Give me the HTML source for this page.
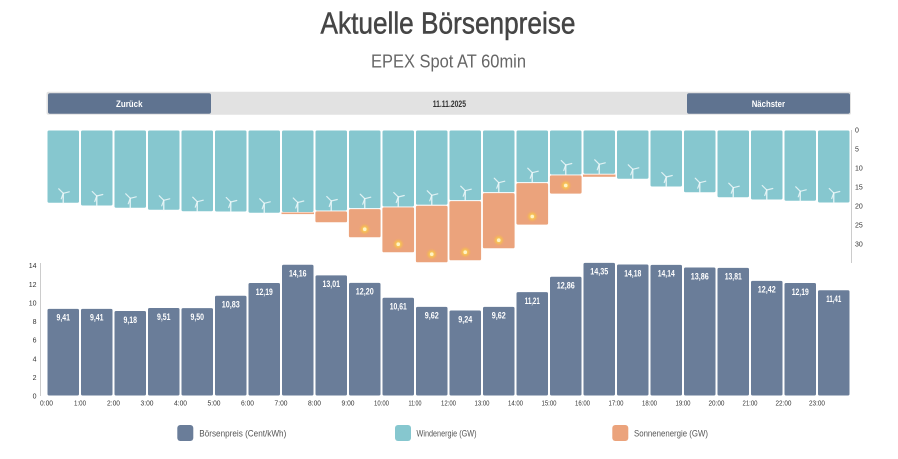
<!DOCTYPE html>
<html>
<head>
<meta charset="utf-8">
<style>
html,body{margin:0;padding:0;background:#fff;}
svg{display:block;}
text{font-family:"Liberation Sans",sans-serif;}
</style>
</head>
<body>
<svg width="898" height="459" viewBox="0 0 898 459" xmlns="http://www.w3.org/2000/svg">
<defs>
  <g id="t" stroke="#eef8f9" stroke-opacity="0.85" stroke-linecap="round" fill="none">
    <line x1="0" y1="0" x2="0" y2="9.5" stroke-width="1.4"/>
    <line x1="0" y1="0" x2="-4.5" y2="-4.5" stroke-width="1.2"/>
    <line x1="0" y1="0" x2="6" y2="-1.5" stroke-width="1.2"/>
    <line x1="0" y1="0" x2="-2" y2="5.5" stroke-width="1.2"/>
  </g>
  <radialGradient id="sg">
    <stop offset="0" stop-color="#ffe27a" stop-opacity="1"/>
    <stop offset="0.5" stop-color="#f8c24e" stop-opacity="0.8"/>
    <stop offset="1" stop-color="#f4a95a" stop-opacity="0"/>
  </radialGradient>
  <g id="s">
    <circle r="6" fill="url(#sg)"/>
    <circle r="1.8" fill="#fff3c4"/>
  </g>
</defs>

<!-- Title -->
<text x="320.5" y="33.3" font-size="31" fill="#454545" stroke="#454545" stroke-width="0.5" textLength="255" lengthAdjust="spacingAndGlyphs">Aktuelle Börsenpreise</text>
<text x="371" y="67.5" font-size="18" fill="#666" textLength="155" lengthAdjust="spacingAndGlyphs">EPEX Spot AT 60min</text>

<!-- Nav -->
<rect x="46.5" y="91.7" width="804.5" height="23" rx="2" fill="#e2e2e2"/>
<rect x="48" y="93.3" width="163" height="20.4" rx="2" fill="#5f7390"/>
<rect x="687" y="93.3" width="163" height="20.4" rx="2" fill="#5f7390"/>
<text x="116" y="107" font-size="9" font-weight="bold" fill="#fff" textLength="26.5" lengthAdjust="spacingAndGlyphs">Zurück</text>
<text x="751.7" y="107" font-size="9" font-weight="bold" fill="#fff" textLength="33.3" lengthAdjust="spacingAndGlyphs">Nächster</text>
<text x="432.7" y="107" font-size="9" font-weight="bold" fill="#333" textLength="33.3" lengthAdjust="spacingAndGlyphs">11.11.2025</text>

<!-- Top chart: wind -->
<g fill="#86c7cf" stroke="#fff" stroke-width="1">
<rect x="47" y="130" width="32.5" height="73.3" rx="2"/>
<rect x="80.5" y="130" width="32.5" height="76" rx="2"/>
<rect x="114" y="130" width="32.5" height="78.3" rx="2"/>
<rect x="147.5" y="130" width="32.5" height="80.3" rx="2"/>
<rect x="181" y="130" width="32.5" height="81.7" rx="2"/>
<rect x="214.5" y="130" width="32.5" height="82" rx="2"/>
<rect x="248" y="130" width="32.5" height="83.3" rx="2"/>
<rect x="281.5" y="130" width="32.5" height="82.5" rx="2"/>
<rect x="315" y="130" width="32.5" height="81" rx="2"/>
<rect x="348.5" y="130" width="32.5" height="78.7" rx="2"/>
<rect x="382" y="130" width="32.5" height="77" rx="2"/>
<rect x="415.5" y="130" width="32.5" height="75.3" rx="2"/>
<rect x="449" y="130" width="32.5" height="70.7" rx="2"/>
<rect x="482.5" y="130" width="32.5" height="62.7" rx="2"/>
<rect x="516" y="130" width="32.5" height="52.7" rx="2"/>
<rect x="549.5" y="130" width="32.5" height="45" rx="2"/>
<rect x="583" y="130" width="32.5" height="44.3" rx="2"/>
<rect x="616.5" y="130" width="32.5" height="49.3" rx="2"/>
<rect x="650" y="130" width="32.5" height="57" rx="2"/>
<rect x="683.5" y="130" width="32.5" height="62.7" rx="2"/>
<rect x="717" y="130" width="32.5" height="67.7" rx="2"/>
<rect x="750.5" y="130" width="32.5" height="70" rx="2"/>
<rect x="784" y="130" width="32.5" height="71.3" rx="2"/>
<rect x="817.5" y="130" width="32.5" height="73" rx="2"/>
</g>

<!-- Top chart: solar -->
<rect x="281.5" y="212.5" width="32.5" height="1.6" fill="#eba37c"/>
<rect x="583" y="174.6" width="32.5" height="2.2" fill="#eba37c"/>
<g fill="#eba37c" stroke="#fff" stroke-width="0.8">
<rect x="315" y="211" width="32.5" height="11.7" rx="2"/>
<rect x="348.5" y="208.7" width="32.5" height="29" rx="2"/>
<rect x="382" y="207" width="32.5" height="45.7" rx="2"/>
<rect x="415.5" y="205.3" width="32.5" height="57.4" rx="2"/>
<rect x="449" y="200.7" width="32.5" height="60" rx="2"/>
<rect x="482.5" y="192.7" width="32.5" height="56" rx="2"/>
<rect x="516" y="182.7" width="32.5" height="42.3" rx="2"/>
<rect x="549.5" y="175" width="32.5" height="19" rx="2"/>
</g>

<!-- Turbines -->
<use href="#t" x="63.25" y="193.3"/>
<use href="#t" x="96.75" y="196"/>
<use href="#t" x="130.25" y="198.3"/>
<use href="#t" x="163.75" y="200.3"/>
<use href="#t" x="197.25" y="201.7"/>
<use href="#t" x="230.75" y="202"/>
<use href="#t" x="264.25" y="203.3"/>
<use href="#t" x="297.75" y="202.5"/>
<use href="#t" x="331.25" y="201"/>
<use href="#t" x="364.75" y="198.7"/>
<use href="#t" x="398.25" y="197"/>
<use href="#t" x="431.75" y="195.3"/>
<use href="#t" x="465.25" y="190.7"/>
<use href="#t" x="498.75" y="182.7"/>
<use href="#t" x="532.25" y="172.7"/>
<use href="#t" x="565.75" y="165"/>
<use href="#t" x="599.25" y="164.3"/>
<use href="#t" x="632.75" y="169.3"/>
<use href="#t" x="666.25" y="177"/>
<use href="#t" x="699.75" y="182.7"/>
<use href="#t" x="733.25" y="187.7"/>
<use href="#t" x="766.75" y="190"/>
<use href="#t" x="800.25" y="191.3"/>
<use href="#t" x="833.75" y="193"/>

<!-- Suns -->
<use href="#s" x="364.75" y="229.2"/>
<use href="#s" x="398.25" y="244.2"/>
<use href="#s" x="431.75" y="254.2"/>
<use href="#s" x="465.25" y="252.2"/>
<use href="#s" x="498.75" y="240.2"/>
<use href="#s" x="532.25" y="216.5"/>
<use href="#s" x="565.75" y="185.5"/>

<!-- Right axis -->
<line x1="851.5" y1="130" x2="851.5" y2="263" stroke="#ccc" stroke-width="1"/>
<g font-size="7" fill="#333">
<text x="855" y="132.5">0</text>
<text x="855" y="151.5">5</text>
<text x="855" y="170.5">10</text>
<text x="855" y="189.5">15</text>
<text x="855" y="208.5">20</text>
<text x="855" y="227.5">25</text>
<text x="855" y="246.5">30</text>
</g>

<!-- Bottom chart axis -->
<line x1="40.5" y1="263" x2="40.5" y2="396" stroke="#ccc" stroke-width="1"/>
<g font-size="7" fill="#333" text-anchor="end">
<text x="36.5" y="398.5">0</text>
<text x="36.5" y="379.9">2</text>
<text x="36.5" y="361.3">4</text>
<text x="36.5" y="342.6">6</text>
<text x="36.5" y="324">8</text>
<text x="36.5" y="305.4">10</text>
<text x="36.5" y="286.8">12</text>
<text x="36.5" y="268.2">14</text>
</g>

<!-- Price bars -->
<g fill="#6a7d99" stroke="#fff" stroke-width="1">
<rect x="47" y="308.4" width="32.5" height="87.6" rx="2"/>
<rect x="80.5" y="308.4" width="32.5" height="87.6" rx="2"/>
<rect x="114" y="310.5" width="32.5" height="85.5" rx="2"/>
<rect x="147.5" y="307.5" width="32.5" height="88.5" rx="2"/>
<rect x="181" y="307.6" width="32.5" height="88.4" rx="2"/>
<rect x="214.5" y="295.2" width="32.5" height="100.8" rx="2"/>
<rect x="248" y="282.5" width="32.5" height="113.5" rx="2"/>
<rect x="281.5" y="264.2" width="32.5" height="131.8" rx="2"/>
<rect x="315" y="274.9" width="32.5" height="121.1" rx="2"/>
<rect x="348.5" y="282.4" width="32.5" height="113.6" rx="2"/>
<rect x="382" y="297.2" width="32.5" height="98.8" rx="2"/>
<rect x="415.5" y="306.4" width="32.5" height="89.6" rx="2"/>
<rect x="449" y="310" width="32.5" height="86" rx="2"/>
<rect x="482.5" y="306.4" width="32.5" height="89.6" rx="2"/>
<rect x="516" y="291.6" width="32.5" height="104.4" rx="2"/>
<rect x="549.5" y="276.3" width="32.5" height="119.7" rx="2"/>
<rect x="583" y="262.4" width="32.5" height="133.6" rx="2"/>
<rect x="616.5" y="264" width="32.5" height="132" rx="2"/>
<rect x="650" y="264.4" width="32.5" height="131.6" rx="2"/>
<rect x="683.5" y="267" width="32.5" height="129" rx="2"/>
<rect x="717" y="267.4" width="32.5" height="128.6" rx="2"/>
<rect x="750.5" y="280.4" width="32.5" height="115.6" rx="2"/>
<rect x="784" y="282.5" width="32.5" height="113.5" rx="2"/>
<rect x="817.5" y="289.8" width="32.5" height="106.2" rx="2"/>
</g>

<!-- Price labels -->
<g font-size="9.5" font-weight="bold" fill="#fff" text-anchor="middle">
<text x="63.25" y="320.7" textLength="13.5" lengthAdjust="spacingAndGlyphs">9,41</text>
<text x="96.75" y="320.7" textLength="13.5" lengthAdjust="spacingAndGlyphs">9,41</text>
<text x="130.25" y="322.8" textLength="13.5" lengthAdjust="spacingAndGlyphs">9,18</text>
<text x="163.75" y="319.8" textLength="13.5" lengthAdjust="spacingAndGlyphs">9,51</text>
<text x="197.25" y="319.9" textLength="13.5" lengthAdjust="spacingAndGlyphs">9,50</text>
<text x="230.75" y="307.5" textLength="18" lengthAdjust="spacingAndGlyphs">10,83</text>
<text x="264.25" y="294.8" textLength="17" lengthAdjust="spacingAndGlyphs">12,19</text>
<text x="297.75" y="276.5" textLength="17.5" lengthAdjust="spacingAndGlyphs">14,16</text>
<text x="331.25" y="287.2" textLength="17.5" lengthAdjust="spacingAndGlyphs">13,01</text>
<text x="364.75" y="294.7" textLength="18" lengthAdjust="spacingAndGlyphs">12,20</text>
<text x="398.25" y="309.5" textLength="17" lengthAdjust="spacingAndGlyphs">10,61</text>
<text x="431.75" y="318.7" textLength="14" lengthAdjust="spacingAndGlyphs">9,62</text>
<text x="465.25" y="322.3" textLength="14" lengthAdjust="spacingAndGlyphs">9,24</text>
<text x="498.75" y="318.7" textLength="14" lengthAdjust="spacingAndGlyphs">9,62</text>
<text x="532.25" y="303.9" textLength="15" lengthAdjust="spacingAndGlyphs">11,21</text>
<text x="565.75" y="288.6" textLength="18" lengthAdjust="spacingAndGlyphs">12,86</text>
<text x="599.25" y="274.7" textLength="18" lengthAdjust="spacingAndGlyphs">14,35</text>
<text x="632.75" y="276.3" textLength="17" lengthAdjust="spacingAndGlyphs">14,18</text>
<text x="666.25" y="276.7" textLength="17" lengthAdjust="spacingAndGlyphs">14,14</text>
<text x="699.75" y="279.3" textLength="18" lengthAdjust="spacingAndGlyphs">13,86</text>
<text x="733.25" y="279.7" textLength="17" lengthAdjust="spacingAndGlyphs">13,81</text>
<text x="766.75" y="292.7" textLength="18" lengthAdjust="spacingAndGlyphs">12,42</text>
<text x="800.25" y="294.8" textLength="17" lengthAdjust="spacingAndGlyphs">12,19</text>
<text x="833.75" y="302.1" textLength="15" lengthAdjust="spacingAndGlyphs">11,41</text>
</g>

<!-- X labels -->
<g font-size="7.5" fill="#333" text-anchor="middle">
<text x="46.5" y="405.5" textLength="13" lengthAdjust="spacingAndGlyphs">0:00</text>
<text x="80" y="405.5" textLength="12" lengthAdjust="spacingAndGlyphs">1:00</text>
<text x="113.5" y="405.5" textLength="13" lengthAdjust="spacingAndGlyphs">2:00</text>
<text x="147" y="405.5" textLength="13" lengthAdjust="spacingAndGlyphs">3:00</text>
<text x="180.5" y="405.5" textLength="13" lengthAdjust="spacingAndGlyphs">4:00</text>
<text x="214" y="405.5" textLength="13" lengthAdjust="spacingAndGlyphs">5:00</text>
<text x="247.5" y="405.5" textLength="13" lengthAdjust="spacingAndGlyphs">6:00</text>
<text x="281" y="405.5" textLength="13" lengthAdjust="spacingAndGlyphs">7:00</text>
<text x="314.5" y="405.5" textLength="13" lengthAdjust="spacingAndGlyphs">8:00</text>
<text x="348" y="405.5" textLength="13" lengthAdjust="spacingAndGlyphs">9:00</text>
<text x="381.5" y="405.5" textLength="15" lengthAdjust="spacingAndGlyphs">10:00</text>
<text x="415" y="405.5" textLength="13" lengthAdjust="spacingAndGlyphs">11:00</text>
<text x="448.5" y="405.5" textLength="15" lengthAdjust="spacingAndGlyphs">12:00</text>
<text x="482" y="405.5" textLength="15" lengthAdjust="spacingAndGlyphs">13:00</text>
<text x="515.5" y="405.5" textLength="15" lengthAdjust="spacingAndGlyphs">14:00</text>
<text x="549" y="405.5" textLength="15" lengthAdjust="spacingAndGlyphs">15:00</text>
<text x="582.5" y="405.5" textLength="15" lengthAdjust="spacingAndGlyphs">16:00</text>
<text x="616" y="405.5" textLength="15" lengthAdjust="spacingAndGlyphs">17:00</text>
<text x="649.5" y="405.5" textLength="15" lengthAdjust="spacingAndGlyphs">18:00</text>
<text x="683" y="405.5" textLength="15" lengthAdjust="spacingAndGlyphs">19:00</text>
<text x="716.5" y="405.5" textLength="16" lengthAdjust="spacingAndGlyphs">20:00</text>
<text x="750" y="405.5" textLength="15" lengthAdjust="spacingAndGlyphs">21:00</text>
<text x="783.5" y="405.5" textLength="16" lengthAdjust="spacingAndGlyphs">22:00</text>
<text x="817" y="405.5" textLength="16" lengthAdjust="spacingAndGlyphs">23:00</text>
</g>

<!-- Legend -->
<rect x="177.3" y="425" width="16" height="16" rx="3" fill="#6a7d99"/>
<rect x="395" y="425" width="16" height="16" rx="3" fill="#86c7cf"/>
<rect x="612.3" y="425" width="16" height="16" rx="3" fill="#eba37c"/>
<g font-size="9.5" fill="#555">
<text x="199.3" y="436.3" textLength="87" lengthAdjust="spacingAndGlyphs">Börsenpreis (Cent/kWh)</text>
<text x="416.5" y="436.3" textLength="60" lengthAdjust="spacingAndGlyphs">Windenergie (GW)</text>
<text x="634" y="436.3" textLength="74" lengthAdjust="spacingAndGlyphs">Sonnenenergie (GW)</text>
</g>
</svg>
</body>
</html>
